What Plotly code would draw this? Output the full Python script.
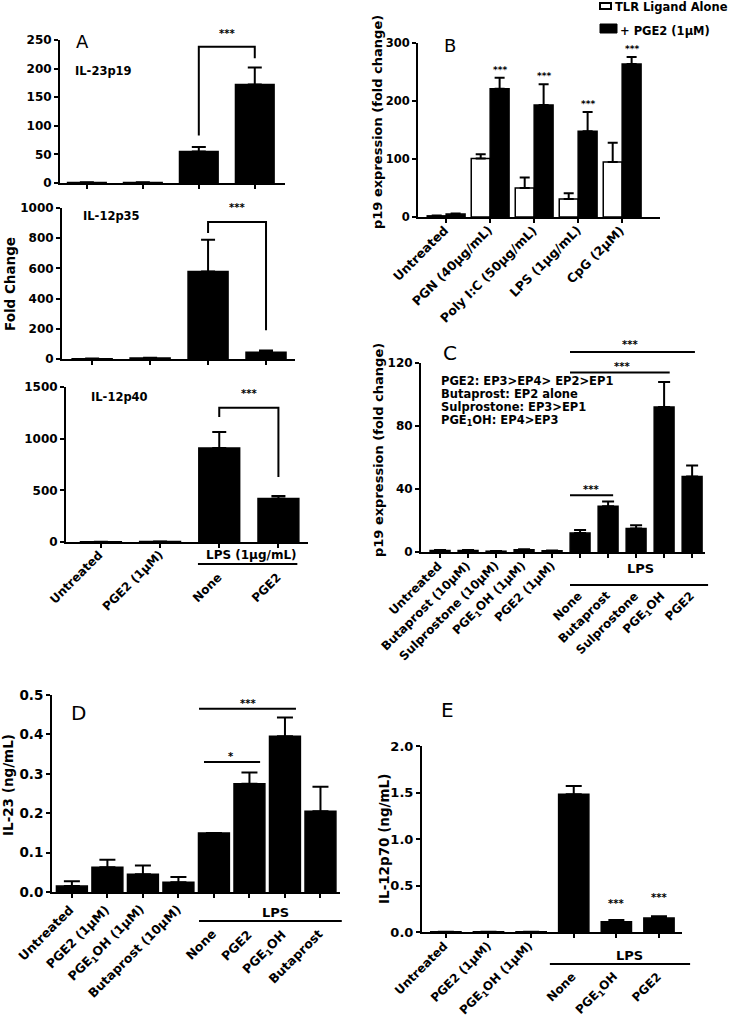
import plotly.graph_objects as go

W, H = 745, 1019
FONT = "DejaVu Sans"

# ---------------- Panel A ----------------
A_labels = ["Untreated", "PGE2 (1μM)", "None", "PGE2"]
A_titles = ["IL-23p19", "IL-12p35", "IL-12p40"]
A_p19 = [1, 1, 55, 172]
A_p19_err = [0.5, 0.5, 8, 30]
A_p35 = [2, 6, 580, 45]
A_p35_err = [1, 2, 210, 12]
A_p40 = [3, 4, 910, 420]
A_p40_err = [0, 0, 155, 25]

# ---------------- Panel B ----------------
B_labels = ["Untreated", "PGN (40μg/mL)", "Poly I:C (50μg/mL)", "LPS (1μg/mL)", "CpG (2μM)"]
B_legend = ["TLR Ligand Alone", "+ PGE2 (1μM)"]
B_alone = [2, 101, 50, 31, 95]
B_alone_err = [0.5, 7, 18, 10, 33]
B_pge2 = [5, 221, 193, 148, 264]
B_pge2_err = [1, 19, 36, 33, 12]

# ---------------- Panel C ----------------
C_labels = ["Untreated", "Butaprost (10μM)", "Sulprostone (10μM)", "PGE<sub>1</sub>OH (1μM)",
            "PGE2 (1μM)", "None", "Butaprost", "Sulprostone", "PGE<sub>1</sub>OH", "PGE2"]
C_vals = [1, 1, 0.5, 1.5, 0.8, 12, 29, 15, 92, 48]
C_err = [0.2, 0.2, 0.1, 0.3, 0.2, 2, 3, 2, 16, 7]
C_note = ["PGE2: EP3>EP4> EP2>EP1", "Butaprost: EP2 alone",
          "Sulprostone: EP3>EP1", "PGE<sub>1</sub>OH: EP4>EP3"]

# ---------------- Panel D ----------------
D_labels = ["Untreated", "PGE2 (1μM)", "PGE<sub>1</sub>OH (1μM)", "Butaprost (10μM)",
            "None", "PGE2", "PGE<sub>1</sub>OH", "Butaprost"]
D_vals = [0.015, 0.063, 0.045, 0.025, 0.15, 0.275, 0.395, 0.205]
D_err = [0.012, 0.019, 0.022, 0.013, 0.0, 0.028, 0.048, 0.062]

# ---------------- Panel E ----------------
E_labels = ["Untreated", "PGE2 (1μM)", "PGE<sub>1</sub>OH (1μM)", "None", "PGE<sub>1</sub>OH", "PGE2"]
E_vals = [0.003, 0.003, 0.003, 1.48, 0.11, 0.15]
E_err = [0, 0, 0, 0.09, 0.02, 0.02]

# ---------------- layout geometry (pixels) ----------------
P = {
    1: dict(xpx=(60, 285), ypx=(40, 183), xr=(-0.48, 3.54), yr=(0, 250), dtick=50, fmt=None, tfs=12),
    2: dict(xpx=(62, 295), ypx=(208, 359), xr=(-0.52, 3.5), yr=(0, 1000), dtick=200, fmt=None, tfs=12),
    3: dict(xpx=(66, 308), ypx=(387, 542), xr=(-0.59, 3.5), yr=(0, 1500), dtick=500, fmt=None, tfs=12),
    4: dict(xpx=(418, 660), ypx=(43, 217), xr=(-0.64, 4.86), yr=(0, 300), dtick=100, fmt=None, tfs=11.5),
    5: dict(xpx=(421, 705), ypx=(363, 552), xr=(-0.68, 9.46), yr=(0, 120), dtick=40, fmt=None, tfs=12),
    6: dict(xpx=(52, 340), ypx=(695, 892), xr=(-0.56, 7.55), yr=(0, 0.5), dtick=0.1, fmt=".1f", tfs=13.5),
    7: dict(xpx=(422, 682), ypx=(746, 932), xr=(-0.56, 5.54), yr=(0, 2.0), dtick=0.5, fmt=".1f", tfs=13),
}
for n, p in P.items():
    p["xd"] = (p["xpx"][0] / W, p["xpx"][1] / W)
    p["yd"] = (1 - p["ypx"][1] / H, 1 - p["ypx"][0] / H)


def ax(n):
    return ("x" if n == 1 else f"x{n}"), ("y" if n == 1 else f"y{n}")


def xp(n, x):
    p = P[n]
    return p["xd"][0] + (x - p["xr"][0]) / (p["xr"][1] - p["xr"][0]) * (p["xd"][1] - p["xd"][0])


def yp(n, y):
    p = P[n]
    return p["yd"][0] + (y - p["yr"][0]) / (p["yr"][1] - p["yr"][0]) * (p["yd"][1] - p["yd"][0])


def below(n, px):
    return P[n]["yd"][0] - px / H


fig = go.Figure()
layout = {}
for n, p in P.items():
    xk = "xaxis" if n == 1 else f"xaxis{n}"
    yk = "yaxis" if n == 1 else f"yaxis{n}"
    xa, ya = ax(n)
    layout[xk] = dict(domain=list(p["xd"]), range=list(p["xr"]), anchor=ya, showline=True,
                      linewidth=2, linecolor="black", ticks="outside", ticklen=4, tickwidth=2,
                      tickcolor="black", showticklabels=False, showgrid=False, zeroline=False,
                      fixedrange=True, automargin=False)
    layout[yk] = dict(domain=list(p["yd"]), range=list(p["yr"]), anchor=xa, showline=True,
                      linewidth=2, linecolor="black", ticks="outside", ticklen=4, tickwidth=2,
                      tickcolor="black", tick0=0, dtick=p["dtick"],
                      tickfont=dict(family=FONT, size=p["tfs"], color="black", weight="bold"),
                      showgrid=False, zeroline=False, fixedrange=True, automargin=False)
    if p["fmt"]:
        layout[yk]["tickformat"] = p["fmt"]

BAR_LINE = dict(color="black", width=1.5)


def add_bars(n, vals, errs, width, color="black", offset=None, name=None, errw=7):
    xa, ya = ax(n)
    pos = list(range(len(vals)))
    kw = {}
    if offset is not None:
        kw["offset"] = offset
    fig.add_trace(go.Bar(x=pos, y=vals, width=width, marker=dict(color=color, line=BAR_LINE),
                         error_y=dict(type="data", array=errs, arrayminus=[0] * len(errs),
                                      symmetric=False, color="black", thickness=2, width=errw),
                         xaxis=xa, yaxis=ya, showlegend=False, name=name or "", **kw))
    return pos


annotations = []
shapes = []


def text(x, y, s, size=11, bold=True, xanchor="center", yanchor="middle", angle=0, xref="paper", **kw):
    f = dict(family=FONT, size=size, color="black")
    if bold:
        f["weight"] = "bold"
    annotations.append(dict(x=x, y=y, xref=xref, yref="paper", text=s, showarrow=False, font=f,
                            xanchor=xanchor, yanchor=yanchor, textangle=angle, **kw))


def line(x0, y0, x1, y1, w=2):
    shapes.append(dict(type="line", xref="paper", yref="paper", x0=x0, y0=y0, x1=x1, y1=y1,
                       line=dict(color="black", width=w)))


def bracket(n, x0, x1, ytop, yl, yr):
    path = (f"M {xp(n, x0)},{yp(n, yl)} L {xp(n, x0)},{yp(n, ytop)} "
            f"L {xp(n, x1)},{yp(n, ytop)} L {xp(n, x1)},{yp(n, yr)}")
    shapes.append(dict(type="path", xref="paper", yref="paper", path=path,
                       line=dict(color="black", width=2)))


def cat_labels(n, labels, pos, norm_off, lps_off=None, lps_start=None, size=12, xshift=8):
    xa, _ = ax(n)
    for i, (lab, x) in enumerate(zip(labels, pos)):
        off = norm_off
        if lps_start is not None and i >= lps_start:
            off = lps_off
        annotations.append(dict(x=x, y=below(n, off), xref=xa, yref="paper", text=lab,
                                showarrow=False, textangle=-45, xanchor="right", yanchor="top",
                                xshift=xshift,
                                font=dict(family=FONT, size=size, color="black", weight="bold")))


# ---------- Panel A ----------
bw = 0.69
pos = add_bars(1, A_p19, A_p19_err, bw)
add_bars(2, A_p35, A_p35_err, bw)
add_bars(3, A_p40, A_p40_err, bw)
for n in (1, 2, 3):
    layout["xaxis" if n == 1 else f"xaxis{n}"]["tickvals"] = pos
bracket(1, 2, 3, 238, 83, 218)
text(xp(1, 2.5), yp(1, 262), "***", size=10)
bracket(2, 2, 3, 907, 835, 190)
text(xp(2, 2.5), yp(2, 1005), "***", size=10)
bracket(3, 2, 3, 1300, 1210, 630)
text(xp(3, 2.5), yp(3, 1440), "***", size=10)
text(82 / W, 1 - 42 / H, "A", size=18, bold=False)
text(xp(1, -0.25), yp(1, 196), A_titles[0], size=11.5, xanchor="left")
text(xp(2, -0.2), yp(2, 950), A_titles[1], size=11.5, xanchor="left")
text(xp(3, -0.2), yp(3, 1400), A_titles[2], size=11.5, xanchor="left")
text(10 / W, 1 - 284 / H, "Fold Change", size=13.5, angle=-90)
cat_labels(3, A_labels, pos, 3, 26, 2)
line(xp(3, 1.64), below(3, 22), xp(3, 3.32), below(3, 22))
text(xp(3, 2.55), below(3, 13), "LPS (1μg/mL)", size=12)

# ---------- Panel B ----------
bwB = 0.43
posB = add_bars(4, B_alone, B_alone_err, bwB, color="white", offset=-bwB, errw=5)
add_bars(4, B_pge2, B_pge2_err, bwB, color="black", offset=0, errw=5)
layout["xaxis4"]["tickvals"] = posB
for i in range(1, len(posB)):
    text(xp(4, posB[i] + bwB / 2), yp(4, B_pge2[i] + B_pge2_err[i] + 14), "***", size=9)
text(450 / W, 1 - 45 / H, "B", size=18, bold=False)
text(378 / W, 1 - 122 / H, "p19 expression (fold change)", size=13, angle=-90)
cat_labels(4, B_labels, posB, 3, size=12.5)
# legend
shapes.append(dict(type="rect", xref="paper", yref="paper", x0=600 / W, x1=611 / W,
                   y0=1 - 9 / H, y1=1 - 3 / H, line=dict(color="black", width=2), fillcolor="white"))
shapes.append(dict(type="rect", xref="paper", yref="paper", x0=600 / W, x1=617 / W,
                   y0=1 - 33 / H, y1=1 - 24 / H, line=dict(color="black", width=1), fillcolor="black"))
text(613 / W, 1 - 7 / H, B_legend[0], size=11.5, xanchor="left")
text(618 / W, 1 - 31 / H, B_legend[1], size=11.5, xanchor="left")

# ---------- Panel C ----------
posC = add_bars(5, C_vals, C_err, 0.71, errw=6)
layout["xaxis5"]["tickvals"] = posC
text(450 / W, 1 - 353 / H, "C", size=20, bold=False)
text(378 / W, 1 - 450 / H, "p19 expression (fold change)", size=13, angle=-90)
for k, s in enumerate(C_note):
    text(xp(5, -0.02), yp(5, 108.5 - k * 8.3), s, size=11.5, xanchor="left")
line(xp(5, 4.64), yp(5, 127), xp(5, 9.1), yp(5, 127))
text(xp(5, 6.8), yp(5, 132), "***", size=10)
line(xp(5, 4.64), yp(5, 114), xp(5, 8.2), yp(5, 114))
text(xp(5, 6.5), yp(5, 118), "***", size=10)
line(xp(5, 4.64), yp(5, 36), xp(5, 6.18), yp(5, 36))
text(xp(5, 5.4), yp(5, 40), "***", size=10)
cat_labels(5, C_labels, posC, 4, 34, 5)
line(xp(5, 4.64), below(5, 33), xp(5, 9.57), below(5, 33))
text(xp(5, 7.14), below(5, 16), "LPS", size=13)

# ---------- Panel D ----------
posD = add_bars(6, D_vals, D_err, 0.87, errw=8)
layout["xaxis6"]["tickvals"] = posD
text(xp(6, 0.2), yp(6, 0.455), "D", size=20, bold=False)
text(8 / W, 1 - 785 / H, "IL-23 (ng/mL)", size=13.5, angle=-90)
line(xp(6, 3.58), yp(6, 0.465), xp(6, 6.31), yp(6, 0.465))
text(xp(6, 4.96), yp(6, 0.478), "***", size=10)
line(xp(6, 3.72), yp(6, 0.33), xp(6, 5.3), yp(6, 0.33))
text(xp(6, 4.48), yp(6, 0.343), "*", size=10)
cat_labels(6, D_labels, posD, 7, 32, 4, size=12.5)
line(xp(6, 3.58), below(6, 29), xp(6, 7.6), below(6, 29))
text(xp(6, 5.72), below(6, 20), "LPS", size=13)

# ---------- Panel E ----------
posE = add_bars(7, E_vals, E_err, 0.71, errw=8)
layout["xaxis7"]["tickvals"] = posE
text(448 / W, 1 - 710 / H, "E", size=20, bold=False)
text(384 / W, 1 - 839 / H, "IL-12p70 (ng/mL)", size=13.5, angle=-90)
text(xp(7, 4), yp(7, 0.31), "***", size=10)
text(xp(7, 5), yp(7, 0.37), "***", size=10)
cat_labels(7, E_labels, posE, 4, 35, 3)
line(xp(7, 2.44), below(7, 32), xp(7, 5.73), below(7, 32))
text(xp(7, 4.3), below(7, 23), "LPS", size=13)

fig.update_layout(template="none", width=W, height=H, margin=dict(l=0, r=0, t=0, b=0, pad=0),
                  paper_bgcolor="white", plot_bgcolor="white", barmode="overlay",
                  showlegend=False, font=dict(family=FONT, color="black"),
                  annotations=annotations, shapes=shapes, **layout)
# remove the browser's default 8px page margin so the figure sits at the window origin
fig.write_html("out.html", config={"displayModeBar": False},
               post_script="document.body.style.margin='0px';")
